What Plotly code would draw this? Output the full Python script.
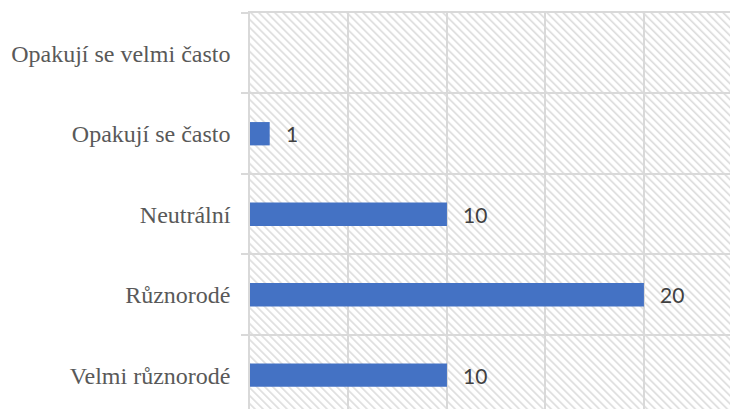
import base64
import plotly.graph_objects as go

categories = ["Velmi různorodé", "Různorodé", "Neutrální", "Opakují se často", "Opakují se velmi často"]
values = [10, 20, 10, 1, 0]
label_texts = ["10", "20", "10", "1", ""]

BAR_COLOR = "#4472C4"
GRID = "#d9d9d9"

# hatch background (SVG pattern, downward diagonal)
svg = (
    '<svg xmlns="http://www.w3.org/2000/svg" width="480" height="396" viewBox="0 0 480 396" preserveAspectRatio="none">'
    '<defs><pattern id="h" width="5.66" height="8" patternUnits="userSpaceOnUse" patternTransform="rotate(-45)">'
    '<rect width="5.66" height="8" fill="white"/>'
    '<rect x="0" y="0" width="1.6" height="8" fill="#dcdcdc"/>'
    '</pattern></defs>'
    '<rect width="480" height="396" fill="url(#h)"/></svg>'
)
svg_uri = "data:image/svg+xml;base64," + base64.b64encode(svg.encode()).decode()

fig = go.Figure()
fig.add_trace(go.Bar(
    x=values, y=categories, orientation="h",
    marker=dict(color=BAR_COLOR, line=dict(width=0)),
    width=0.29, hoverinfo="skip",
))

for c, v, t in zip(categories, values, label_texts):
    if t:
        fig.add_annotation(
            x=v, y=c, text=t, showarrow=False, xanchor="left", yanchor="middle",
            xshift=14, font=dict(family="Lato", size=21, color="#404040"),
        )

fig.add_layout_image(dict(
    source=svg_uri, xref="paper", yref="paper", x=0, y=1, sizex=1, sizey=1,
    xanchor="left", yanchor="top", sizing="stretch", layer="below",
))

fig.update_layout(
    width=730, height=409,
    margin=dict(l=250, r=0, t=13, b=0),
    paper_bgcolor="white", plot_bgcolor="rgba(0,0,0,0)",
    showlegend=False,
    xaxis=dict(
        range=[0, 24.37], dtick=5, tick0=0, showticklabels=False,
        showgrid=True, gridcolor=GRID, gridwidth=1.5,
        zeroline=False, side="top", showline=True, linecolor=GRID, linewidth=1.5,
        ticks="",
    ),
    yaxis=dict(
        categoryorder="array", categoryarray=categories,
        range=[-0.42, 4.5], tickson="boundaries",
        showgrid=True, gridcolor=GRID, gridwidth=1.5,
        showline=True, linecolor=GRID, linewidth=1.5,
        ticks="outside", ticklen=7, tickcolor=GRID, tickwidth=1.5,
        ticklabelstandoff=13,
        tickfont=dict(family="Liberation Serif", size=24, color="#595959"),
        zeroline=False,
    ),
    bargap=0.71,
)

fig.write_html(
    "out.html",
    config={"displayModeBar": False},
    post_script="document.body.style.margin='0';document.body.style.overflow='hidden';",
)
